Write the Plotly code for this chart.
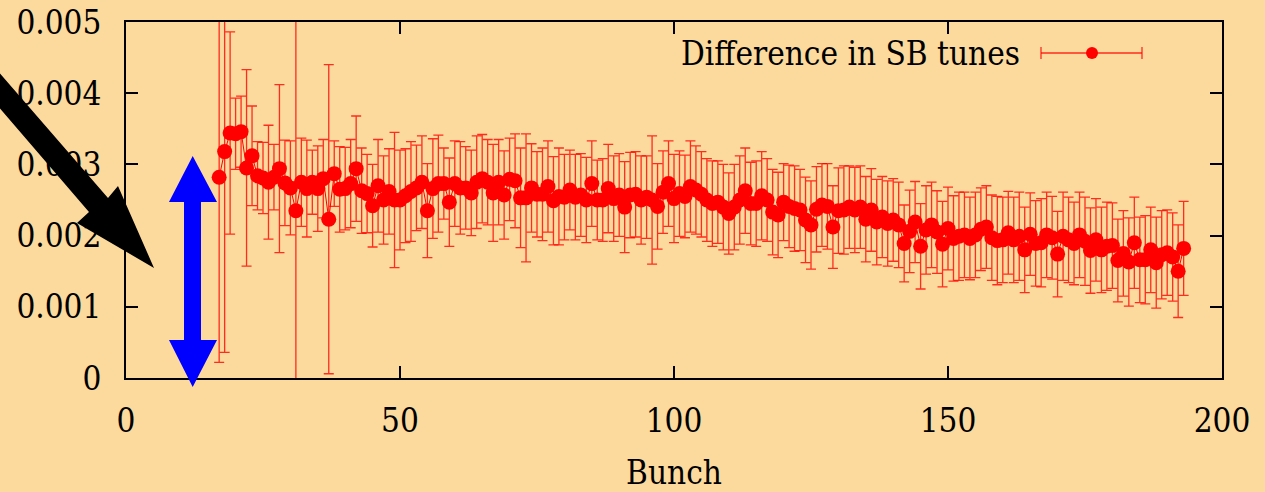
import plotly.graph_objects as go

# ---------------- data ----------------
bunch = list(range(17, 194))

tune_diff = [
    0.00282, 0.00318, 0.00344, 0.00343, 0.00346, 0.00295, 0.00312, 0.00284, 0.00281, 0.00275,
    0.00282, 0.00294, 0.00274, 0.00267, 0.00235, 0.00275, 0.00266, 0.00275, 0.00266, 0.00280,
    0.00223, 0.00287, 0.00265, 0.00266, 0.00273, 0.00294, 0.00263, 0.00259, 0.00242, 0.00270,
    0.00250, 0.00262, 0.00250, 0.00250, 0.00256, 0.00262, 0.00267, 0.00275, 0.00235, 0.00266,
    0.00273, 0.00273, 0.00247, 0.00273, 0.00267, 0.00267, 0.00260, 0.00275, 0.00280, 0.00275,
    0.00260, 0.00275, 0.00257, 0.00279, 0.00277, 0.00253, 0.00253, 0.00267, 0.00258, 0.00258,
    0.00269, 0.00249, 0.00255, 0.00254, 0.00264, 0.00254, 0.00257, 0.00250, 0.00273, 0.00250,
    0.00250, 0.00266, 0.00252, 0.00257, 0.00240, 0.00257, 0.00258, 0.00250, 0.00254, 0.00250,
    0.00241, 0.00261, 0.00273, 0.00252, 0.00259, 0.00255, 0.00269, 0.00264, 0.00258, 0.00250,
    0.00245, 0.00247, 0.00240, 0.00231, 0.00240, 0.00250, 0.00263, 0.00245, 0.00245, 0.00256,
    0.00250, 0.00233, 0.00229, 0.00247, 0.00241, 0.00238, 0.00236, 0.00222, 0.00215, 0.00237,
    0.00243, 0.00241, 0.00212, 0.00235, 0.00236, 0.00240, 0.00236, 0.00240, 0.00223, 0.00236,
    0.00219, 0.00226, 0.00217, 0.00222, 0.00215, 0.00189, 0.00206, 0.00219, 0.00185, 0.00208,
    0.00215, 0.00205, 0.00188, 0.00210, 0.00196, 0.00199, 0.00201, 0.00196, 0.00201, 0.00209,
    0.00212, 0.00197, 0.00193, 0.00194, 0.00204, 0.00194, 0.00199, 0.00180, 0.00202, 0.00189,
    0.00190, 0.00201, 0.00197, 0.00174, 0.00199, 0.00194, 0.00189, 0.00201, 0.00192, 0.00179,
    0.00194, 0.00180, 0.00185, 0.00186, 0.00165, 0.00175, 0.00163, 0.00190, 0.00166, 0.00166,
    0.00180, 0.00162, 0.00173, 0.00176, 0.00170, 0.00150, 0.00182,
]

tune_err = [
    0.00260, 0.00282, 0.00142, 0.00050, 0.00050, 0.00138, 0.00070, 0.00048, 0.00050, 0.00080,
    0.00046, 0.00118, 0.00060, 0.00066, 0.00280, 0.00062, 0.00068, 0.00045, 0.00060, 0.00055,
    0.00217, 0.00046, 0.00060, 0.00058, 0.00062, 0.00074, 0.00060, 0.00055, 0.00058, 0.00065,
    0.00062, 0.00060, 0.00095, 0.00070, 0.00066, 0.00070, 0.00060, 0.00065, 0.00066, 0.00070,
    0.00068, 0.00050, 0.00062, 0.00060, 0.00065, 0.00058, 0.00060, 0.00065, 0.00062, 0.00060,
    0.00068, 0.00060, 0.00062, 0.00058, 0.00066, 0.00070, 0.00090, 0.00062, 0.00060, 0.00065,
    0.00064, 0.00062, 0.00068, 0.00060, 0.00056, 0.00060, 0.00058, 0.00060, 0.00060, 0.00056,
    0.00058, 0.00062, 0.00060, 0.00058, 0.00064, 0.00060, 0.00060, 0.00062, 0.00058, 0.00090,
    0.00060, 0.00058, 0.00060, 0.00062, 0.00060, 0.00058, 0.00064, 0.00062, 0.00060, 0.00058,
    0.00060, 0.00058, 0.00060, 0.00057, 0.00060, 0.00062, 0.00060, 0.00058, 0.00060, 0.00062,
    0.00058, 0.00060, 0.00060, 0.00054, 0.00058, 0.00060, 0.00057, 0.00060, 0.00062, 0.00060,
    0.00058, 0.00060, 0.00058, 0.00060, 0.00062, 0.00058, 0.00060, 0.00058, 0.00060, 0.00058,
    0.00060, 0.00057, 0.00060, 0.00058, 0.00060, 0.00054, 0.00058, 0.00057, 0.00060, 0.00062,
    0.00060, 0.00058, 0.00060, 0.00058, 0.00060, 0.00062, 0.00060, 0.00058, 0.00060, 0.00058,
    0.00058, 0.00060, 0.00062, 0.00060, 0.00058, 0.00060, 0.00062, 0.00060, 0.00058, 0.00060,
    0.00062, 0.00060, 0.00058, 0.00060, 0.00062, 0.00060, 0.00058, 0.00060, 0.00062, 0.00060,
    0.00058, 0.00060, 0.00062, 0.00060, 0.00058, 0.00060, 0.00062, 0.00064, 0.00060, 0.00062,
    0.00060, 0.00064, 0.00062, 0.00060, 0.00062, 0.00065, 0.00066,
]

x_ticks = [0, 50, 100, 150, 200]
y_ticks = [0, 0.001, 0.002, 0.003, 0.004, 0.005]
y_tick_labels = ["0", "0.001", "0.002", "0.003", "0.004", "0.005"]
series_name = "Difference in SB tunes"
x_title = "Bunch"

# ---------------- style / layout ----------------
W, H = 1265, 492
ML, MR, MT, MB = 126, 43, 22, 114
PW, PH = W - ML - MR, H - MT - MB
BG = "#FCD99C"
FONT = "DejaVu Serif Condensed, DejaVu Serif"
FS = 33


def px(x):
    return (x - ML) / PW


def py(y):
    return (H - MB - y) / PH


def path(points):
    return "M " + " L ".join(f"{px(a):.5f},{py(b):.5f}" for a, b in points) + " Z"


fig = go.Figure()
fig.add_trace(go.Scatter(
    x=bunch, y=tune_diff, name=series_name, mode="lines+markers",
    line=dict(color="#FF0000", width=1),
    marker=dict(color="#FF0000", size=15, symbol="circle"),
    error_y=dict(type="data", array=tune_err, visible=True,
                 color="rgba(255,0,0,0.8)", thickness=1.3, width=5),
    showlegend=False,
))

shapes = []
# black arrow (annotation)
shapes.append(dict(type="path", xref="paper", yref="paper", layer="above",
                   path=path([(-10, 62), (108, 198), (118, 186), (154, 268),
                              (77, 223), (89, 212), (-10, 97)]),
                   fillcolor="black", line=dict(width=0)))
# blue double arrow
shapes.append(dict(type="path", xref="paper", yref="paper", layer="above",
                   path=path([(192.7, 156), (217, 202), (201, 202), (201, 340),
                              (217, 340), (192.7, 387), (169, 340), (184, 340),
                              (184, 202), (169, 202)]),
                   fillcolor="#0000FF", line=dict(width=0)))
# legend key (gnuplot style: text left, sample right)
ky = 53
shapes.append(dict(type="line", xref="paper", yref="paper", layer="above",
                   x0=px(1041), x1=px(1142), y0=py(ky), y1=py(ky),
                   line=dict(color="rgba(255,0,0,0.8)", width=1.3)))
for cx in (1041, 1142):
    shapes.append(dict(type="line", xref="paper", yref="paper", layer="above",
                       x0=px(cx), x1=px(cx), y0=py(ky - 6), y1=py(ky + 6),
                       line=dict(color="rgba(255,0,0,0.8)", width=1.3)))
shapes.append(dict(type="circle", xref="paper", yref="paper", layer="above",
                   x0=px(1092 - 6), x1=px(1092 + 6), y0=py(ky - 6), y1=py(ky + 6),
                   fillcolor="#FF0000", line=dict(width=0)))

annotations = [dict(text=series_name, xref="paper", yref="paper",
                    x=px(1022), y=py(ky), xanchor="right", yanchor="middle",
                    showarrow=False, font=dict(family=FONT, size=FS, color="black"))]

axis_common = dict(
    showline=True, linecolor="black", linewidth=2, mirror="ticks",
    ticks="inside", ticklen=12, tickwidth=1.5, tickcolor="black",
    showgrid=False, zeroline=False, automargin=False,
    tickfont=dict(family=FONT, size=FS, color="black"),
)

fig.update_layout(
    width=W, height=H,
    font=dict(family=FONT),
    margin=dict(l=ML, r=MR, t=MT, b=MB, pad=0),
    paper_bgcolor=BG, plot_bgcolor=BG,
    xaxis=dict(range=[0, 200], tickvals=x_ticks, ticklabelstandoff=12,
               title=dict(text=x_title, font=dict(family=FONT, size=FS, color="black"),
                          standoff=30),
               **axis_common),
    yaxis=dict(range=[0, 0.005], tickvals=y_ticks, ticktext=y_tick_labels,
               ticklabelstandoff=16, **axis_common),
    shapes=shapes, annotations=annotations, showlegend=False,
)

fig.write_html("out.html")
